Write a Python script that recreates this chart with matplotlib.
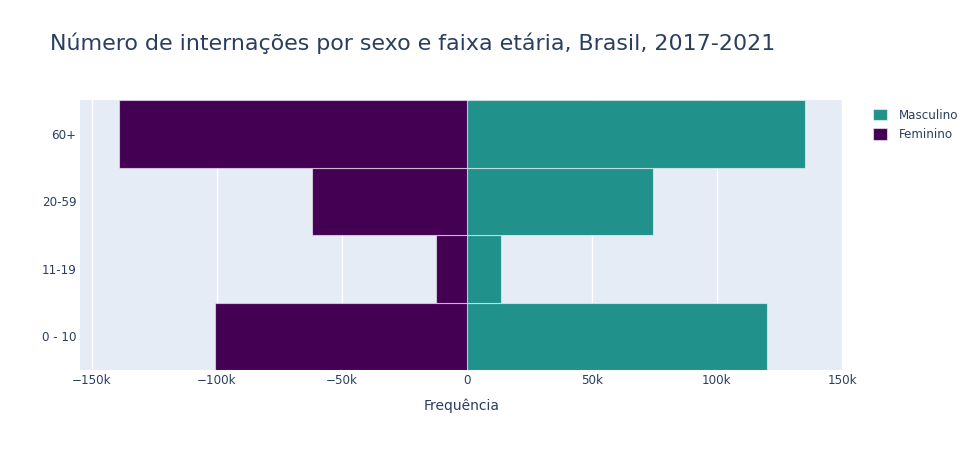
import matplotlib.pyplot as plt
from matplotlib.ticker import FuncFormatter

faixas = ['0 - 10', '11-19', '20-59', '60+']
masculino = [120100, 13600, 74600, 135100]
feminino = [100700, 12400, 61800, 139200]

plt.rcParams['font.family'] = ['DejaVu Sans']

fig = plt.figure(figsize=(9.74, 4.5), dpi=100)
ax = fig.add_axes([80 / 974, 1 - 370 / 450, 763 / 974, 270 / 450])
ax.set_facecolor('#e5ecf6')

y = range(len(faixas))
ax.barh(y, masculino, height=1.0, color='#21918c', edgecolor=(1, 1, 1, 0.55),
        linewidth=0.8, label='Masculino', zorder=3)
ax.barh(y, [-v for v in feminino], height=1.0, color='#440154',
        edgecolor=(1, 1, 1, 0.55), linewidth=0.8, label='Feminino', zorder=3)

ax.set_xlim(-154600, 150400)
ax.set_ylim(-0.5, len(faixas) - 0.5)
ax.set_xticks([-150000, -100000, -50000, 0, 50000, 100000, 150000])


def fmt(v, pos):
    if v == 0:
        return '0'
    s = '%dk' % (abs(v) / 1000)
    return ('\u2212' + s) if v < 0 else s


ax.xaxis.set_major_formatter(FuncFormatter(fmt))
ax.set_yticks(list(y))
ax.set_yticklabels(faixas)
ax.grid(axis='x', color='white', linewidth=1, zorder=1)
ax.axvline(0, color='white', linewidth=2, zorder=2)
for s in ax.spines.values():
    s.set_visible(False)
ax.tick_params(axis='both', length=0, labelsize=8.6, colors='#2a3f5f', pad=3)
ax.tick_params(axis='y', pad=2.5)

ax.set_xlabel('Frequência', fontsize=10, color='#2a3f5f', labelpad=8)

fig.text(50 / 974, 1 - 43 / 450, 'Número de internações por sexo e faixa etária, Brasil, 2017-2021',
         fontsize=15.9, color='#2a3f5f', va='center', ha='left')

leg = ax.legend(loc='upper left', bbox_to_anchor=(1.032, 0.99), frameon=False,
                fontsize=8.6, labelcolor='#2a3f5f', handlelength=1.1,
                handleheight=1.1, handletextpad=1.0, labelspacing=0.55,
                borderaxespad=0.1)

fig.savefig('out.png', dpi=100)
